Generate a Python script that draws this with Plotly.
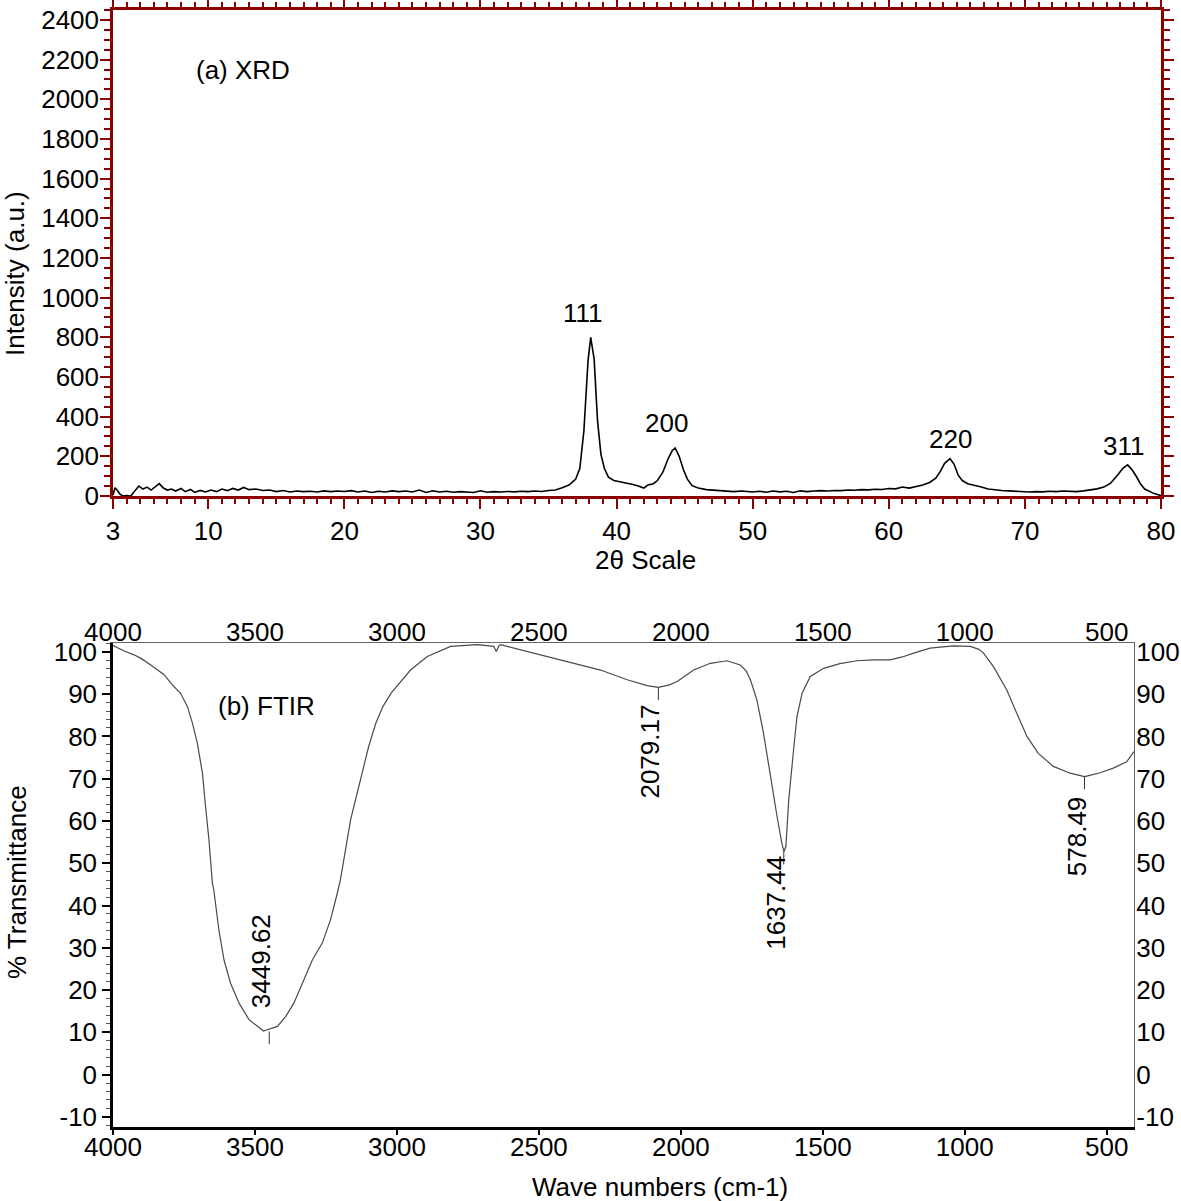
import plotly.graph_objects as go

W, H = 1181, 1201

# (a) XRD pattern
two_theta = [3.0, 3.15, 3.3, 3.5, 3.7, 4.0, 4.3, 4.6, 4.9, 5.2, 5.5, 5.8, 6.1, 6.4, 6.7, 7.0,
             7.3, 7.6, 8.0, 8.3, 8.7, 9.0, 9.4, 9.8, 10.2, 10.6, 11.0, 11.4, 11.8, 12.2, 12.6,
             13.0, 13.5, 14.0, 14.5, 15.0, 15.5, 16.0, 16.5, 17.0, 17.5, 18.0, 18.5, 19.0, 19.5,
             20.0, 20.5, 21.0, 21.5, 22.0, 22.5, 23.0, 23.5, 24.0, 24.5, 25.0, 25.5, 26.0, 26.5,
             27.0, 27.5, 28.0, 28.5, 29.0, 29.5, 30.0, 30.5, 31.0, 31.5, 32.0, 32.5, 33.0, 33.5,
             34.0, 34.5, 35.0, 35.5, 36.0, 36.5, 37.0, 37.3, 37.6, 37.9, 38.1, 38.35, 38.6, 38.85,
             39.1, 39.4, 39.8, 40.3, 40.8, 41.2, 41.6, 42.0, 42.3, 42.7, 43.0, 43.4, 43.8, 44.1,
             44.3, 44.6, 44.9, 45.2, 45.55, 46.0, 46.6, 47.2, 48.0, 48.6, 49.2, 50.0, 50.5, 51.0,
             51.5, 52.0, 52.5, 53.0, 53.5, 54.0, 54.5, 55.0, 55.5, 56.0, 56.5, 57.0, 57.5, 58.0,
             58.5, 59.0, 59.5, 60.0, 60.5, 61.0, 61.5, 62.0, 62.5, 63.0, 63.45, 63.8, 64.1, 64.5,
             64.8, 65.1, 65.4, 65.8, 66.3, 66.8, 67.3, 67.8, 68.3, 68.8, 69.3, 69.8, 70.3, 70.8,
             71.3, 71.8, 72.3, 72.8, 73.3, 73.8, 74.3, 74.8, 75.3, 75.8, 76.3, 76.8, 77.2, 77.55,
             77.9, 78.2, 78.5, 78.8, 79.2, 79.5, 80.0]
intensity = [5, 42, 30, 10, 0, 2, 0, 25, 50, 35, 45, 30, 48, 62, 40, 30,
             35, 25, 38, 22, 33, 18, 28, 20, 30, 22, 35, 27, 38, 30, 43,
             32, 35, 28, 30, 22, 28, 20, 25, 22, 24, 20, 26, 22, 25,
             23, 27, 20, 25, 18, 24, 20, 26, 22, 25, 20, 30, 18, 26,
             20, 24, 19, 22, 21, 18, 26, 19, 22, 20, 23, 21, 24, 22,
             25, 23, 28, 30, 42, 55, 85, 140, 330, 680, 800, 690, 380, 210,
             140, 95, 78, 72, 65, 58, 50, 40, 55, 62, 78, 120, 190, 230,
             242, 200, 135, 85, 52, 40, 32, 28, 24, 22, 25, 20, 24, 19,
             25, 21, 24, 18, 26, 22, 25, 27, 25, 28, 27, 30, 29, 32,
             31, 34, 33, 38, 36, 45, 40, 48, 55, 68, 90, 125, 165, 188,
             160, 105, 78, 62, 55, 45, 35, 30, 28, 26, 24, 22, 20, 22,
             21, 24, 22, 25, 24, 22, 26, 30, 36, 45, 65, 105, 140, 157,
             130, 97, 60, 35, 20, 12, 2]
xrd_labels = ["111", "200", "220", "311"]
xrd_x_ticks = [3, 10, 20, 30, 40, 50, 60, 70, 80]

# (b) FTIR spectrum
wavenumber = [4000, 3960, 3926, 3900, 3867, 3840, 3820, 3791, 3762, 3738, 3720, 3703, 3685,
              3674, 3662, 3650, 3645, 3627, 3609, 3586, 3556, 3521, 3486, 3470, 3457, 3421,
              3392, 3363, 3328, 3298, 3263, 3234, 3210, 3199, 3163, 3128, 3100, 3075, 3050,
              3020, 2987, 2952, 2893, 2811, 2717, 2659, 2650, 2640, 2635, 2518, 2400, 2283,
              2189, 2119, 2079, 2040, 2013, 1955, 1896, 1837, 1791, 1770, 1755, 1732, 1709,
              1685, 1661, 1645, 1637, 1630, 1620, 1603, 1591, 1573, 1544, 1497, 1440, 1380,
              1320, 1263, 1220, 1180, 1122, 1040, 981, 950, 934, 899, 852, 817, 781, 741,
              688, 629, 578, 560, 523, 477, 430, 404]
transmittance = [101.5, 100.2, 99.3, 98.4, 96.9, 95.5, 94.6, 92.2, 90.2, 87.1, 83.1, 78.4, 71.3,
                 63.4, 55.5, 45.3, 43.7, 34.2, 27.1, 21.6, 16.9, 13.0, 11.0, 10.3, 10.6, 11.4,
                 13.7, 16.9, 22.4, 27.1, 31.1, 36.6, 42.9, 46.1, 60.3, 70.0, 77.5, 83.0, 87.0,
                 90.3, 92.8, 95.7, 98.9, 101.3, 101.7, 101.3, 100.1, 101.5, 101.7, 99.7, 97.7, 95.7,
                 93.4, 92.0, 91.6, 92.2, 93.0, 95.7, 97.3, 97.9, 96.9, 95.5, 93.4, 88.6, 80.8,
                 70.5, 61.0, 55.0, 52.7, 54.0, 65.0, 76.8, 84.7, 90.2, 94.2, 96.1, 97.2, 97.9,
                 98.1, 98.1, 98.8, 99.7, 100.9, 101.4, 101.3, 100.6, 99.7, 96.5, 91.0, 85.5, 80.0, 76.0,
                 72.9, 71.3, 70.5, 70.8, 71.4, 72.5, 74.0, 76.4]
ftir_peaks = [3449.62, 2079.17, 1637.44, 578.49]
ftir_peak_t = [10.2, 91.6, 52.7, 70.5]
ftir_y_ticks = [-10, 0, 10, 20, 30, 40, 50, 60, 70, 80, 90, 100]

FONT = "Liberation Sans, Arial, Helvetica, sans-serif"
RED = "#8B0000"
FS = 26

def px(x):
    return x / W

def py(y):
    return 1 - y / H

fig = go.Figure()
fig.add_trace(go.Scatter(x=two_theta, y=intensity, mode="lines",
                         line=dict(color="black", width=1.6), xaxis="x", yaxis="y"))
fig.add_trace(go.Scatter(x=wavenumber, y=transmittance, mode="lines",
                         line=dict(color="#4a4a4a", width=1.2), xaxis="x2", yaxis="y2"))
# invisible copy so the top / right FTIR axes get drawn
fig.add_trace(go.Scatter(x=wavenumber, y=transmittance, mode="lines", hoverinfo="skip",
                         line=dict(color="rgba(0,0,0,0)", width=0), xaxis="x3", yaxis="y3"))

tickfont = dict(family=FONT, size=FS, color="black")
ftir_ytext = [str(v) for v in ftir_y_ticks]

fig.update_layout(
    width=W, height=H, showlegend=False,
    margin=dict(l=0, r=0, t=0, b=0),
    paper_bgcolor="white", plot_bgcolor="white",
    font=dict(family=FONT, size=FS, color="black"),
    xaxis=dict(domain=[px(113), px(1161)], anchor="y", range=[3, 80],
               tickmode="array", tickvals=xrd_x_ticks, ticks="outside", ticklen=10,
               tickwidth=2, tickcolor=RED, showline=True, linecolor=RED, linewidth=2.5,
               mirror="ticks", showgrid=False, zeroline=False, tickfont=tickfont,
               minor=dict(tickmode="linear", tick0=0, dtick=1, ticks="outside", ticklen=5,
                          tickwidth=2, tickcolor=RED, showgrid=False),
               automargin=False),
    yaxis=dict(domain=[py(496), py(10)], anchor="x", range=[0, 2450],
               tickmode="linear", tick0=0, dtick=200, ticks="outside", ticklen=10,
               tickwidth=2, tickcolor=RED, showline=True, linecolor=RED, linewidth=2.5,
               mirror="ticks", showgrid=False, zeroline=False, tickfont=tickfont,
               ticklabelstandoff=-4,
               minor=dict(tickmode="linear", tick0=0, dtick=50, ticks="outside", ticklen=6,
                          tickwidth=2, tickcolor=RED, showgrid=False),
               automargin=False),
    xaxis2=dict(domain=[px(113), px(1134)], anchor="y2", range=[4000, 404],
                tickmode="linear", tick0=0, dtick=500, ticks="outside", ticklen=5,
                tickwidth=1.5, tickcolor="black", showline=True, linecolor="black",
                linewidth=2.5, showgrid=False, zeroline=False, tickfont=tickfont,
                ticklabelstandoff=-10, automargin=False),
    yaxis2=dict(domain=[py(1127), py(643)], anchor="x2", range=[-12.4, 102.1],
                tickmode="array", tickvals=ftir_y_ticks, ticktext=ftir_ytext,
                ticks="outside", ticklen=8,
                tickwidth=1.5, tickcolor="black", showline=True, linecolor="black",
                linewidth=2.5, showgrid=False, zeroline=False, tickfont=tickfont,
                minor=dict(tickmode="linear", tick0=0, dtick=2, ticks="outside", ticklen=4,
                           tickwidth=1, tickcolor="#555", showgrid=False),
                automargin=False),
    xaxis3=dict(overlaying="x2", side="top", anchor="y2", range=[4000, 404],
                tickmode="linear", tick0=0, dtick=500, ticks="", showline=True,
                linecolor="#666", linewidth=1.2, showgrid=False, zeroline=False,
                tickfont=tickfont, ticklabelstandoff=-9, automargin=False),
    yaxis3=dict(overlaying="y2", side="right", anchor="x2", range=[-12.4, 102.1],
                tickmode="array", tickvals=ftir_y_ticks, ticktext=ftir_ytext,
                ticks="", showline=True,
                linecolor="#666", linewidth=1.2, showgrid=False, zeroline=False,
                tickfont=tickfont, ticklabelstandoff=-4, automargin=False),
)

ann = []

def paper_text(text, x, y, angle=0):
    ann.append(dict(text=text, x=px(x), y=py(y), xref="paper", yref="paper",
                    xanchor="center", yanchor="middle", textangle=angle,
                    showarrow=False, font=dict(size=FS)))

# panel labels and axis titles
paper_text("(a) XRD", 243, 70)
paper_text("(b) FTIR", 266, 706)
paper_text("Intensity (a.u.)", 15, 274, -90)
paper_text("2θ Scale", 645, 560)
paper_text("% Transmittance", 17, 882, -90)
paper_text("Wave numbers (cm-1)", 660, 1187)

# XRD peak indices, placed just above each reflection
xrd_pos = [(37.56, 922), (43.67, 366), (64.56, 285), (77.28, 250)]
for lab, (xx, yy) in zip(xrd_labels, xrd_pos):
    ann.append(dict(text=lab, x=xx, y=yy, xref="x", yref="y", showarrow=False,
                    xanchor="center", yanchor="middle", font=dict(size=FS)))

# FTIR peak markers: short tick under each band and rotated value
text_mid = [26.9, 76.5, 40.6, 56.5]
for wn, t, mid in zip(ftir_peaks, ftir_peak_t, text_mid):
    fig.add_shape(type="line", xref="x2", yref="y2", x0=wn, x1=wn, y0=t, y1=t - 3,
                  line=dict(color="#333", width=1))
    ann.append(dict(text=f"{wn:.2f}", x=wn, y=mid, xref="x2", yref="y2", textangle=-90,
                    xanchor="center", yanchor="middle", xshift=-8, showarrow=False,
                    font=dict(size=FS)))

fig.update_layout(annotations=ann)

# page body has an 8px default margin; drop it so the figure sits at the corner
fig.write_html("out.html", config={"displayModeBar": False},
               post_script="document.body.style.margin='0px';")
